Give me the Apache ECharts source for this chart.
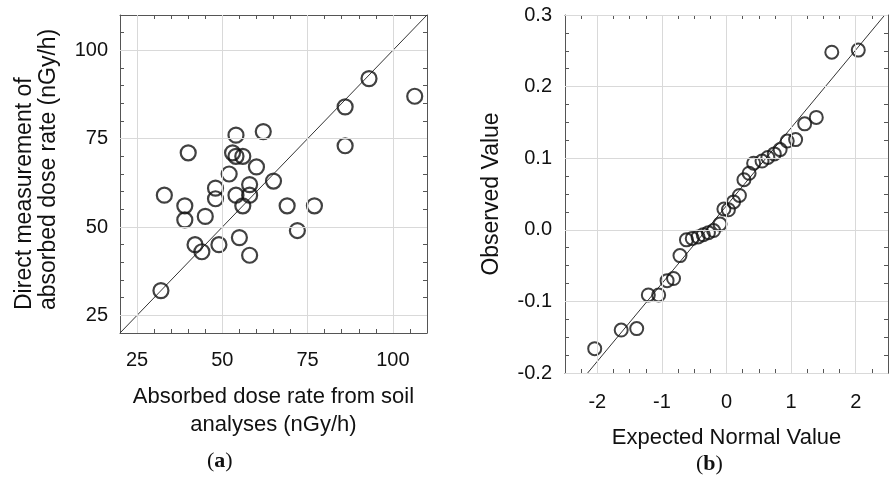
<!DOCTYPE html>
<html>
<head>
<meta charset="utf-8">
<script src="https://cdn.jsdelivr.net/npm/echarts@6/dist/echarts.min.js"></script>
<style>
html,body{margin:0;padding:0;background:#fff;}
#chart{width:891px;height:489px;}
</style>
</head>
<body>
<div id="chart"></div>
<script>
// ---- Data (a): absorbed dose rate, soil analyses vs direct measurement (nGy/h)
const soilDose = [32, 93, 106.4, 86, 86, 54, 62, 40, 53, 54, 56, 60, 52, 65, 58, 48, 33, 54, 58, 48, 39, 56, 69, 77, 45, 39, 72, 55, 42, 49, 44, 58];
const directDose = [32, 92, 87, 84, 73, 76, 77, 71, 71, 70, 70, 67, 65, 63, 62, 61, 59, 59, 59, 58, 56, 56, 56, 56, 53, 52, 49, 47, 45, 45, 43, 42];
const diagLine = [[20, 20], [110, 110]];
const doseTicks = [25, 50, 75, 100];

// ---- Data (b): normal probability plot
const expectedNormal = [-2.04, -1.63, -1.39, -1.21, -1.05, -0.92, -0.82, -0.72, -0.62, -0.53, -0.44, -0.36, -0.28, -0.20, -0.10, -0.04, 0.03, 0.11, 0.20, 0.27, 0.35, 0.42, 0.55, 0.64, 0.74, 0.83, 0.94, 1.07, 1.21, 1.39, 1.63, 2.04];
const observedValue = [-0.166, -0.140, -0.138, -0.091, -0.091, -0.071, -0.068, -0.036, -0.014, -0.012, -0.010, -0.007, -0.004, -0.001, 0.008, 0.029, 0.028, 0.039, 0.048, 0.070, 0.079, 0.093, 0.096, 0.101, 0.106, 0.112, 0.124, 0.126, 0.148, 0.157, 0.248, 0.251];
const normalLine = [[-2.15, -0.2], [2.45, 0.3]];
const normalXTicks = [-2, -1, 0, 1, 2];
const normalYTicks = [-0.2, -0.1, 0.0, 0.1, 0.2, 0.3];

const FONT = "'Liberation Sans', Arial, sans-serif";
const TXT = '#111';
const AX = '#555';
const GRIDC = '#d9d9d9';

const isTick = (arr, v) => arr.some(t => Math.abs(t - v) < 1e-6);

function axisBase(extra) {
  return Object.assign({
    type: 'value',
    axisLine: { show: true, onZero: false, lineStyle: { color: AX, width: 1 } },
    axisTick: { show: true, inside: true, length: 4, lineStyle: { color: AX, width: 1 } },
    splitLine: { show: false },
    axisLabel: { show: false },
  }, extra);
}

const chart = echarts.init(document.getElementById('chart'), null, { renderer: 'canvas' });

const labelStyle = { color: TXT, fontFamily: FONT, fontSize: 20 };

const option = {
  animation: false,
  backgroundColor: '#fff',
  grid: [
    { left: 120, top: 15, width: 307, height: 318, show: false },
    { left: 565, top: 15, width: 337, height: 358, show: false }
  ],
  xAxis: [
    axisBase({
      gridIndex: 0, position: 'bottom', min: 20, max: 110, interval: 5,
      axisLabel: Object.assign({ show: true, margin: 17, formatter: v => isTick(doseTicks, v) ? String(Math.round(v)) : '' }, labelStyle),
      name: 'Absorbed dose rate from soil\nanalyses (nGy/h)', nameLocation: 'middle', nameGap: 50,
      nameTextStyle: { color: TXT, fontFamily: FONT, fontSize: 22, lineHeight: 28 }
    }),
    axisBase({ gridIndex: 0, position: 'top', min: 20, max: 110, interval: 5 }),
    axisBase({
      gridIndex: 1, position: 'bottom', min: -2.5, max: 2.5, interval: 0.25,
      axisLabel: Object.assign({ show: true, margin: 19, formatter: v => isTick(normalXTicks, v) ? String(Math.round(v)) : '' }, labelStyle),
      name: 'Expected Normal Value', nameLocation: 'middle', nameGap: 54,
      nameTextStyle: { color: TXT, fontFamily: FONT, fontSize: 22 }
    }),
    axisBase({ gridIndex: 1, position: 'top', min: -2.5, max: 2.5, interval: 0.25 })
  ],
  yAxis: [
    axisBase({
      gridIndex: 0, position: 'left', min: 20, max: 110, interval: 5,
      axisLabel: Object.assign({ show: true, margin: 12, formatter: v => isTick(doseTicks, v) ? String(Math.round(v)) : '' }, labelStyle)
    }),
    axisBase({ gridIndex: 0, position: 'right', min: 20, max: 110, interval: 5 }),
    axisBase({
      gridIndex: 1, position: 'left', min: -0.2, max: 0.3, interval: 0.025,
      axisLabel: Object.assign({ show: true, margin: 13, formatter: v => isTick(normalYTicks, v) ? v.toFixed(1) : '' }, labelStyle),
      name: 'Observed Value', nameLocation: 'middle', nameGap: 62,
      nameTextStyle: { color: TXT, fontFamily: FONT, fontSize: 23 }
    }),
    axisBase({ gridIndex: 1, position: 'right', min: -0.2, max: 0.3, interval: 0.025 })
  ],
  series: [
    {
      type: 'line', xAxisIndex: 0, yAxisIndex: 0, data: [], z: 1, silent: true,
      markLine: {
        silent: true, symbol: 'none', label: { show: false },
        lineStyle: { color: GRIDC, type: 'solid', width: 1 },
        data: doseTicks.map(v => ({ xAxis: v })).concat(doseTicks.map(v => ({ yAxis: v })))
      }
    },
    {
      type: 'line', xAxisIndex: 0, yAxisIndex: 0, data: diagLine, symbol: 'none', z: 2, silent: true,
      lineStyle: { color: '#333', width: 1 }
    },
    {
      type: 'scatter', xAxisIndex: 0, yAxisIndex: 0, z: 3,
      data: soilDose.map((v, i) => [v, directDose[i]]),
      symbol: 'circle', symbolSize: 15,
      itemStyle: { color: 'rgba(0,0,0,0)', borderColor: '#111', borderWidth: 2.2 }
    },
    {
      type: 'line', xAxisIndex: 2, yAxisIndex: 2, data: [], z: 1, silent: true,
      markLine: {
        silent: true, symbol: 'none', label: { show: false },
        lineStyle: { color: GRIDC, type: 'solid', width: 1 },
        data: normalXTicks.map(v => ({ xAxis: v })).concat(normalYTicks.map(v => ({ yAxis: v })))
      }
    },
    {
      type: 'line', xAxisIndex: 2, yAxisIndex: 2, data: normalLine, symbol: 'none', z: 2, silent: true,
      lineStyle: { color: '#333', width: 1 }
    },
    {
      type: 'scatter', xAxisIndex: 2, yAxisIndex: 2, z: 3,
      data: expectedNormal.map((v, i) => [v, observedValue[i]]),
      symbol: 'circle', symbolSize: 13,
      itemStyle: { color: 'rgba(0,0,0,0)', borderColor: '#111', borderWidth: 2 }
    }
  ],
  graphic: [
    {
      type: 'text', x: 25, y: 310, rotation: Math.PI / 2,
      style: {
        text: 'Direct measurement of', fill: TXT, fontFamily: FONT, fontSize: 23,
        align: 'left', verticalAlign: 'middle'
      }
    },
    {
      type: 'text', x: 49, y: 310, rotation: Math.PI / 2,
      style: {
        text: 'absorbed dose rate (nGy/h)', fill: TXT, fontFamily: FONT, fontSize: 23,
        align: 'left', verticalAlign: 'middle'
      }
    },
    {
      type: 'text', left: 207, top: 450,
      style: {
        text: '({a|a})', fill: TXT, font: "22px 'Liberation Serif', serif",
        rich: { a: { fontWeight: 'bold', fontSize: 22, fontFamily: "'Liberation Serif', serif", fill: TXT } }
      }
    },
    {
      type: 'text', left: 696, top: 453,
      style: {
        text: '({a|b})', fill: TXT, font: "22px 'Liberation Serif', serif",
        rich: { a: { fontWeight: 'bold', fontSize: 22, fontFamily: "'Liberation Serif', serif", fill: TXT } }
      }
    }
  ]
};

chart.setOption(option);
</script>
</body>
</html>
